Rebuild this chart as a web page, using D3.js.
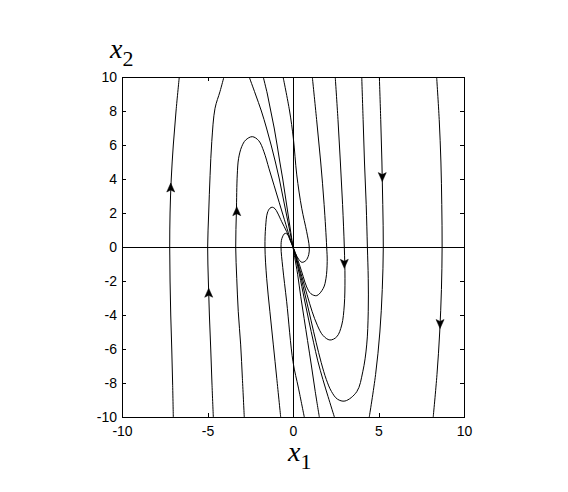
<!DOCTYPE html>
<html>
<head>
<meta charset="utf-8">
<script src="https://cdn.jsdelivr.net/npm/d3@7"></script>
<style>
  body { margin: 0; background: #fff; }
  svg { display: block; }
</style>
</head>
<body>
<script>
// phase portrait, values (x1, x2)

var xTicks = [-10, -5, 0, 5, 10];
var yTicks = [-10, -8, -6, -4, -2, 0, 2, 4, 6, 8, 10];

// left side, coming in from the bottom
var trajA = [[-7.0, -10], [-7.04, -8], [-7.09, -6], [-7.15, -4], [-7.19, -2], [-7.21, 0],
  [-7.19, 2], [-7.12, 4], [-7.0, 6], [-6.84, 8], [-6.65, 10]];
var trajB = [[-4.66, -10], [-4.74, -8], [-4.81, -6], [-4.89, -4], [-4.95, -2], [-4.99, 0],
  [-4.93, 2], [-4.85, 4.2], [-4.75, 6.2], [-4.56, 8.16], [-4.27, 9.14], [-4.04, 10]];
var trajC = [[-2.85, -10], [-2.96, -7.72], [-3.06, -5.76], [-3.2, -3.81], [-3.29, -1.84],
  [-3.35, 0], [-3.31, 2.08], [-3.26, 4.24], [-3.18, 5.22], [-3.0, 5.9], [-2.77, 6.29],
  [-2.38, 6.49], [-2.0, 6.25], [-1.7, 5.6], [-1.4, 4.6], [-1.1, 3.6], [-0.8, 2.6],
  [-0.5, 1.6], [-0.2, 0.6], [0, 0]];
var trajD = [[-0.72, -10], [-0.95, -7.72], [-1.15, -5.76], [-1.35, -3.81], [-1.54, -1.84],
  [-1.64, 0], [-1.6, 1.2], [-1.5, 2.0], [-1.35, 2.28], [-1.21, 2.34], [-1.05, 2.25],
  [-0.9, 2.0], [-0.66, 1.49], [-0.37, 0.9], [-0.15, 0.35], [0, 0]];
var trajE = [[0.66, -10], [0.32, -8.3], [0, -6.75], [-0.37, -3.22], [-0.6, -1.2], [-0.7, 0],
  [-0.65, 0.5], [-0.47, 0.8], [-0.3, 0.72], [-0.15, 0.4], [0, 0]];

// from the top, straight into the origin
var trajT1 = [[-2.56, 10], [-2.2, 9], [-1.85, 8], [-1.55, 7], [-1.28, 6], [-1.03, 5],
  [-0.8, 4], [-0.6, 3], [-0.4, 2], [-0.2, 1], [0, 0]];
var trajT2 = [[-1.74, 10], [-1.5, 9], [-1.3, 8], [-1.1, 7], [-0.93, 6], [-0.77, 5],
  [-0.6, 4], [-0.45, 3], [-0.3, 2], [-0.15, 1], [0, 0]];

// from the top, turning below the x1 axis
var trajU0 = [[-0.58, 10], [-0.2, 8], [0.02, 6.4], [0.22, 4.24], [0.51, 2.28], [0.8, 0.9],
  [0.95, 0], [0.92, -0.45], [0.75, -0.8], [0.52, -0.9], [0.33, -0.72], [0.15, -0.38], [0, 0]];
var trajU1 = [[1.13, 10], [1.38, 7.5], [1.62, 5], [1.82, 2.5], [1.97, 0], [2.0, -0.86],
  [1.93, -1.84], [1.77, -2.43], [1.39, -2.86], [1.05, -2.75], [0.8, -2.35], [0.6, -1.75],
  [0.38, -1.05], [0.17, -0.45], [0, 0]];
var trajU2 = [[2.47, 10], [2.63, 7.5], [2.77, 5], [2.9, 2.5], [3.0, 0], [3.04, -1.84],
  [3.0, -3.41], [2.85, -4.59], [2.56, -5.28], [2.16, -5.47], [1.75, -5.2], [1.42, -4.6],
  [1.12, -3.8], [0.82, -2.8], [0.52, -1.75], [0.24, -0.8], [0, 0]];
var trajU3 = [[4.02, 10], [4.1, 7.5], [4.18, 5], [4.28, 2.5], [4.35, 0], [4.4, -1.84],
  [4.4, -3.81], [4.31, -5.76], [4.08, -7.34], [3.73, -8.51], [3.04, -9.06], [2.6, -8.95],
  [2.25, -8.5], [1.95, -7.8], [1.65, -6.8], [1.35, -5.6], [1.05, -4.3], [0.75, -3.0],
  [0.45, -1.7], [0.2, -0.7], [0, 0]];

// from the bottom, straight into the origin
var trajL1 = [[1.54, -10], [1.3, -8.5], [1.08, -7], [0.85, -5.5], [0.65, -4.2], [0.45, -2.9],
  [0.27, -1.6], [0.1, -0.6], [0, 0]];
var trajL2 = [[2.42, -10], [2.05, -8.8], [1.75, -7.8], [1.45, -6.7], [1.2, -5.6], [0.92, -4.3],
  [0.65, -3.0], [0.38, -1.65], [0.17, -0.7], [0, 0]];

// right side, going down through the whole box
var trajG = [[5.05, 10], [5.13, 7.5], [5.2, 5], [5.25, 2.5], [5.28, 0], [5.22, -2.5],
  [5.08, -5], [4.83, -7.5], [4.46, -10]];
var trajF = [[8.4, 10], [8.55, 7.5], [8.65, 5], [8.7, 2.5], [8.72, 0], [8.68, -2.5],
  [8.58, -5], [8.42, -7.5], [8.2, -10]];

var trajectories = [trajA, trajB, trajC, trajD, trajE, trajT1, trajT2, trajU0, trajU1,
  trajU2, trajU3, trajL1, trajL2, trajG, trajF];

// arrow heads: x1, x2, 1 = pointing up, -1 = pointing down
var arrowX = [-7.15, -4.93, -3.29, 3.0, 5.22, 8.6];
var arrowY = [3.47, -2.72, 2.08, -0.96, 4.14, -4.5];
var arrowDir = [1, 1, 1, -1, -1, -1];

var width = 568, height = 492;

var svg = d3.select('body').append('svg')
  .attr('width', width)
  .attr('height', height);

svg.append('rect')
  .attr('width', width)
  .attr('height', height)
  .attr('fill', '#fff');

var x = d3.scaleLinear().domain([-10, 10]).range([122, 464]);
var y = d3.scaleLinear().domain([-10, 10]).range([417, 77]);

svg.append('clipPath').attr('id', 'plotclip')
  .append('rect')
  .attr('x', x(-10)).attr('y', y(10))
  .attr('width', x(10) - x(-10)).attr('height', y(-10) - y(10));

var plain = function(d) { return String(d); };

var styleAxis = function(g) {
  g.select('.domain').remove();
  g.selectAll('line').attr('stroke', '#000').attr('shape-rendering', 'crispEdges');
  g.selectAll('text')
    .attr('fill', '#000')
    .style('font-family', '"Liberation Sans", Arial, sans-serif')
    .style('font-size', '14px');
};

// ticks point inwards on all four sides
svg.append('g').attr('transform', 'translate(' + x(-10) + ',0)')
  .call(d3.axisLeft(y).tickValues(yTicks).tickSizeInner(-4).tickSizeOuter(0)
    .tickPadding(5).tickFormat(plain))
  .call(styleAxis);
svg.append('g').attr('transform', 'translate(' + x(10) + ',0)')
  .call(d3.axisRight(y).tickValues(yTicks).tickSizeInner(-4).tickSizeOuter(0).tickFormat(''))
  .call(styleAxis);
svg.append('g').attr('transform', 'translate(0,' + y(-10) + ')')
  .call(d3.axisBottom(x).tickValues(xTicks).tickSizeInner(-4).tickSizeOuter(0)
    .tickPadding(9).tickFormat(plain))
  .call(styleAxis);
svg.append('g').attr('transform', 'translate(0,' + y(10) + ')')
  .call(d3.axisTop(x).tickValues(xTicks).tickSizeInner(-4).tickSizeOuter(0).tickFormat(''))
  .call(styleAxis);

// x1 = 0 and x2 = 0 lines
svg.append('line')
  .attr('x1', x(-10)).attr('x2', x(10)).attr('y1', y(0)).attr('y2', y(0))
  .attr('stroke', '#000').attr('shape-rendering', 'crispEdges');
svg.append('line')
  .attr('x1', x(0)).attr('x2', x(0)).attr('y1', y(-10)).attr('y2', y(10))
  .attr('stroke', '#000').attr('shape-rendering', 'crispEdges');

var line = d3.line()
  .x(function(d) { return x(d[0]); })
  .y(function(d) { return y(d[1]); })
  .curve(d3.curveCatmullRom.alpha(0.5));

svg.append('g').attr('clip-path', 'url(#plotclip)')
  .selectAll('path').data(trajectories).enter().append('path')
  .attr('d', line)
  .attr('fill', 'none')
  .attr('stroke', '#000')
  .attr('stroke-width', 1);

svg.append('g').selectAll('path').data(arrowX).enter().append('path')
  .attr('d', 'M0,-5L4,4L0,2L-4,4Z')
  .attr('transform', function(d, i) {
    return 'translate(' + x(d) + ',' + y(arrowY[i]) + ') rotate(' + (arrowDir[i] > 0 ? 0 : 180) + ')';
  })
  .attr('fill', '#000')
  .attr('stroke', '#000')
  .attr('stroke-width', 0.5);

// frame
svg.append('rect')
  .attr('x', x(-10)).attr('y', y(10))
  .attr('width', x(10) - x(-10)).attr('height', y(-10) - y(10))
  .attr('fill', 'none')
  .attr('stroke', '#000')
  .attr('shape-rendering', 'crispEdges');

// axis labels, x italic with upright subscript
var addLabel = function(px, py, sub) {
  var t = svg.append('text')
    .attr('x', px).attr('y', py)
    .style('font-family', '"Liberation Serif", "Times New Roman", serif')
    .attr('fill', '#000');
  t.append('tspan').style('font-style', 'italic').style('font-size', '28px').text('x');
  t.append('tspan').attr('dy', 8).style('font-size', '22px').text(sub);
};

addLabel(110, 58, '2');
addLabel(288, 461, '1');
</script>
</body>
</html>
